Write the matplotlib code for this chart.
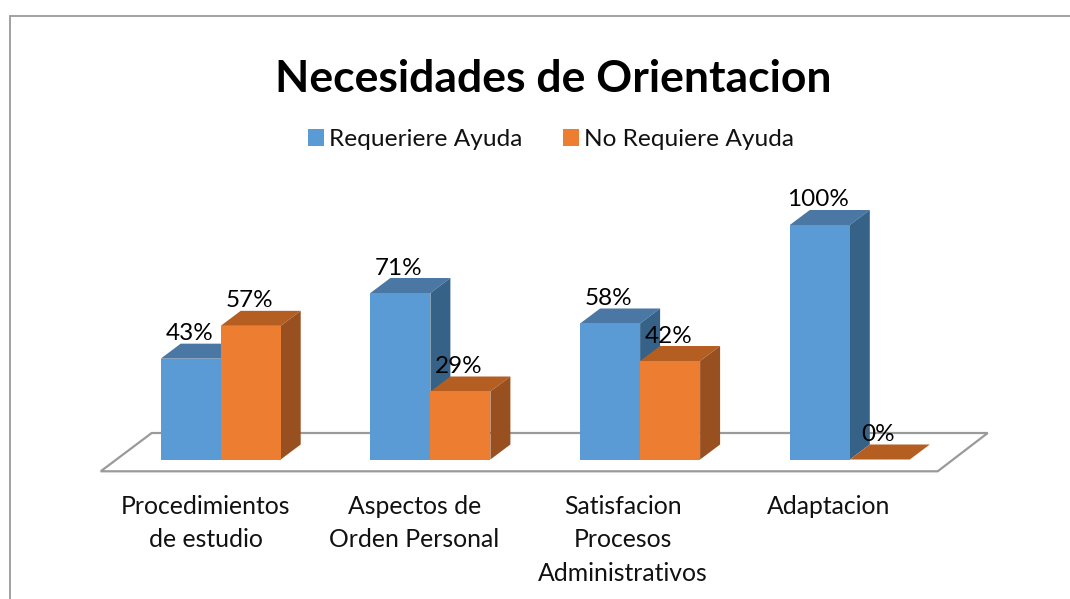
import matplotlib
matplotlib.use("Agg")
import matplotlib.pyplot as plt
from matplotlib.patches import Polygon, Rectangle, Patch

plt.rcParams['font.family'] = ['Lato', 'DejaVu Sans']

title = "Necesidades de Orientacion"
categories = ["Procedimientos\nde estudio", "Aspectos de\nOrden Personal",
              "Satisfacion\nProcesos\nAdministrativos", "Adaptacion"]
series_names = ["Requeriere Ayuda", "No Requiere Ayuda"]
requiere = [43, 71, 58, 100]
no_requiere = [57, 29, 42, 0]

W, H = 1070, 599
PX_X = 209.7      # pixels per category
PX_Y = 2.345      # pixels per percentage point
X0, Y0 = 220.7, 459.5   # pixel of category 0 / value 0
AX_BOTTOM = 490
BW = 60 / PX_X
DX, DY = 20 / PX_X, 15 / PX_Y

FRONT = ["#5B9BD5", "#ED7D31"]
TOP = ["#4A77A3", "#B55E22"]
SIDE = ["#376287", "#985020"]
GRID = "#9A9A9A"
BLACK = "#000000"

fig = plt.figure(figsize=(W / 100, H / 100), dpi=100, facecolor="white")
ax = fig.add_axes([0, (H - AX_BOTTOM) / H, 1, AX_BOTTOM / H])
ax.set_xlim(-X0 / PX_X, (W - X0) / PX_X)
ax.set_ylim((Y0 - AX_BOTTOM) / PX_Y, Y0 / PX_Y)
for s in ax.spines.values():
    s.set_visible(False)
ax.set_yticks([])
ax.patch.set_alpha(0)

# chart frame
fig.add_artist(Rectangle((10 / W, -0.1), 1.2, (H - 15.5) / H + 0.1, transform=fig.transFigure,
                         fill=False, ec=GRID, lw=1.3))

# floor
fl, fr = -120 / PX_X, 717 / PX_X
ax.add_patch(Polygon([(fl, -11.8 / PX_Y), (fr, -11.8 / PX_Y),
                      (fr + 50 / PX_X, 26.5 / PX_Y), (fl + 51 / PX_X, 26.5 / PX_Y)],
                     closed=True, fc="white", ec=GRID, lw=1.6, zorder=1, clip_on=False))

# bars
for s, values in enumerate([requiere, no_requiere]):
    xs = [i + (s - 1) * BW for i in range(len(values))]
    ax.bar(xs, values, width=BW, align="edge", color=FRONT[s], zorder=4 + 2 * s, lw=0)
    for x, v in zip(xs, values):
        ax.add_patch(Polygon([(x, v), (x + BW, v), (x + BW + DX, v + DY), (x + DX, v + DY)],
                             closed=True, fc=TOP[s], ec="none", zorder=3 + 2 * s))
        ax.add_patch(Polygon([(x + BW, 0), (x + BW + DX, DY), (x + BW + DX, v + DY), (x + BW, v)],
                             closed=True, fc=SIDE[s], ec="none", zorder=3 + 2 * s))
        ax.annotate(f"{v}%", (x + BW / 2, v), xytext=(-1, 25 * 0.72), textcoords="offset points",
                    ha="center", va="center", fontsize=17.5, color=BLACK, zorder=10)

# category labels
label_shift = [15, 16, 17, 21]
ax.set_xticks([i - d / PX_X for i, d in enumerate(label_shift)])
ax.set_xticklabels(categories, fontsize=17.8, color="#111111", linespacing=1.55, va="top")
ax.tick_params(axis="x", length=0, pad=3.5)

ax.set_title(title, fontsize=32, fontweight="bold", color=BLACK, x=(553.5 / W), y=1, pad=-92 * 0.72)

handles = [Patch(fc=FRONT[0], ec="none"), Patch(fc=FRONT[1], ec="none")]
fig.legend(handles, series_names, loc="center", bbox_to_anchor=(551 / W, 1 - 139.5 / H),
           ncol=2, frameon=False, fontsize=17.6, handlelength=0.66, handleheight=0.66,
           handletextpad=0.2, columnspacing=1.67, labelcolor="#111111")

fig.savefig("out.png", dpi=100)
